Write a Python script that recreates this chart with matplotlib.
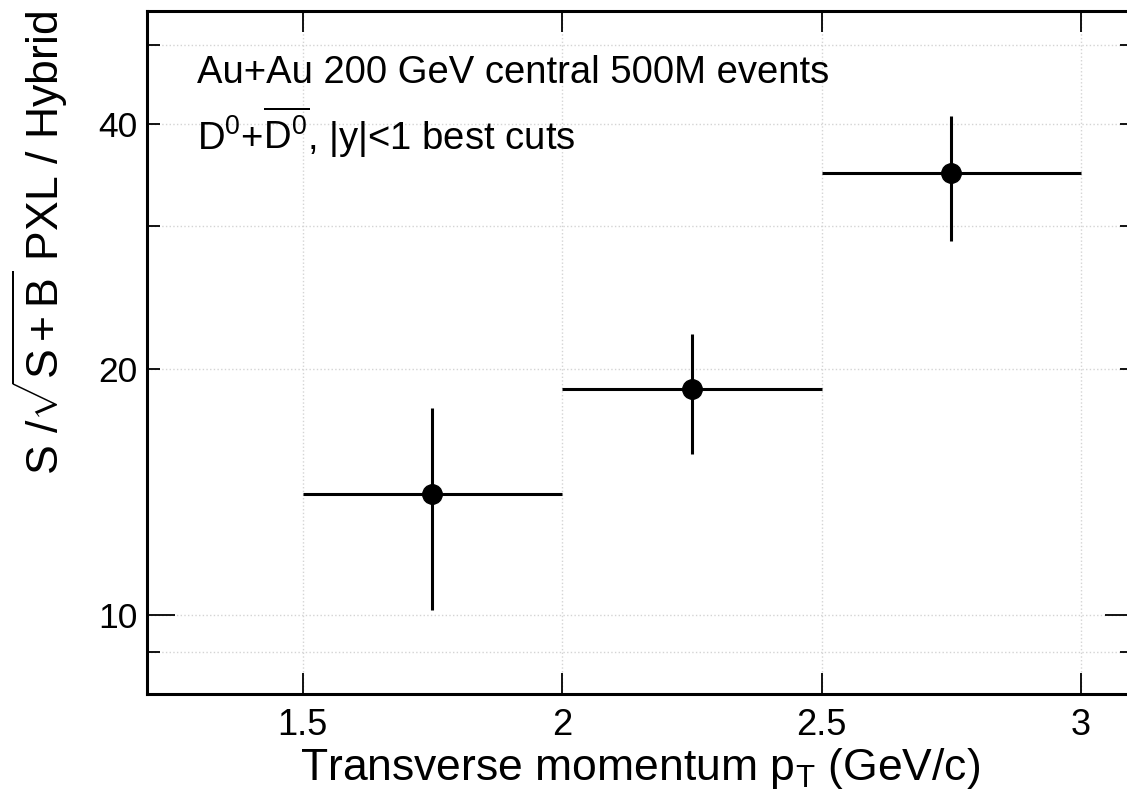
import numpy as np
import matplotlib
matplotlib.use('Agg')
import matplotlib.pyplot as plt
from matplotlib.ticker import FixedLocator, FixedFormatter, NullLocator

plt.rcParams['font.family'] = ['Liberation Sans', 'DejaVu Sans']
plt.rcParams['mathtext.fontset'] = 'custom'
plt.rcParams['mathtext.rm'] = 'Liberation Sans'
plt.rcParams['mathtext.it'] = 'Liberation Sans:italic'

# pT bins and S/sqrt(S+B) ratio PXL / Hybrid
pt_centers = [1.75, 2.25, 2.75]
pt_halfwidth = [0.25, 0.25, 0.25]
ratio = [14.05, 18.93, 34.8]
ratio_err = [3.9, 3.2, 6.06]

# y tick layout (ROOT-like log axis)
y_major = [10]
y_minor = [9, 20, 30, 40, 50]
y_minor_labels = ['', '20', '', '40', '']
x_ticks = [1.5, 2, 2.5, 3]
x_tick_labels = ['1.5', '2', '2.5', '3']

fig = plt.figure(figsize=(11.27, 8.10), dpi=100)
ax = fig.add_axes([147/1127, 116/810, 986/1127, 683/810])

ax.errorbar(pt_centers, ratio, xerr=pt_halfwidth, yerr=ratio_err,
            fmt='o', color='black', ms=14, lw=2.2, capsize=0, zorder=3)

ax.set_yscale('log')
ax.set_xlim(1.2, 3.1)
ax.set_ylim(8, 55)

ax.yaxis.set_major_locator(FixedLocator(y_major))
ax.yaxis.set_major_formatter(FixedFormatter(['10']))
ax.yaxis.set_minor_locator(FixedLocator(y_minor))
ax.yaxis.set_minor_formatter(FixedFormatter(y_minor_labels))
ax.set_xticks(x_ticks)
ax.set_xticklabels(x_tick_labels)
ax.xaxis.set_minor_locator(NullLocator())

ax.tick_params(axis='both', which='both', direction='in', top=True, right=True,
               width=1.3, colors='black')
ax.tick_params(axis='y', which='major', length=20, labelsize=25.5, pad=7)
ax.tick_params(axis='y', which='minor', length=9.5, labelsize=25.5, pad=7)
ax.tick_params(axis='x', which='major', length=15, labelsize=26, pad=10)

ax.grid(True, axis='y', which='both', color='#d4d4d4', linestyle=':', lw=1)
ax.grid(True, axis='x', which='major', color='#d4d4d4', linestyle=':', lw=1)

for s in ax.spines.values():
    s.set_linewidth(2.2)

ax.set_xlabel(r'Transverse momentum p$_\mathregular{T}$ (GeV/c)', fontsize=32,
              labelpad=2)
ax.set_ylabel(r'S /$\sqrt{\mathregular{S+B}}$ PXL / Hybrid', fontsize=32,
              loc='top', labelpad=20)

ax.text(0.051, 0.8946, 'Au+Au 200 GeV central 500M events', transform=ax.transAxes,
        fontsize=27.5, va='baseline', ha='left')
ax.text(0.051, 0.7965, r'D$^0$+$\overline{\mathregular{D}^0}$, |y|<1 best cuts',
        transform=ax.transAxes, fontsize=27.5, va='baseline', ha='left')

fig.savefig('out.png', dpi=100)
